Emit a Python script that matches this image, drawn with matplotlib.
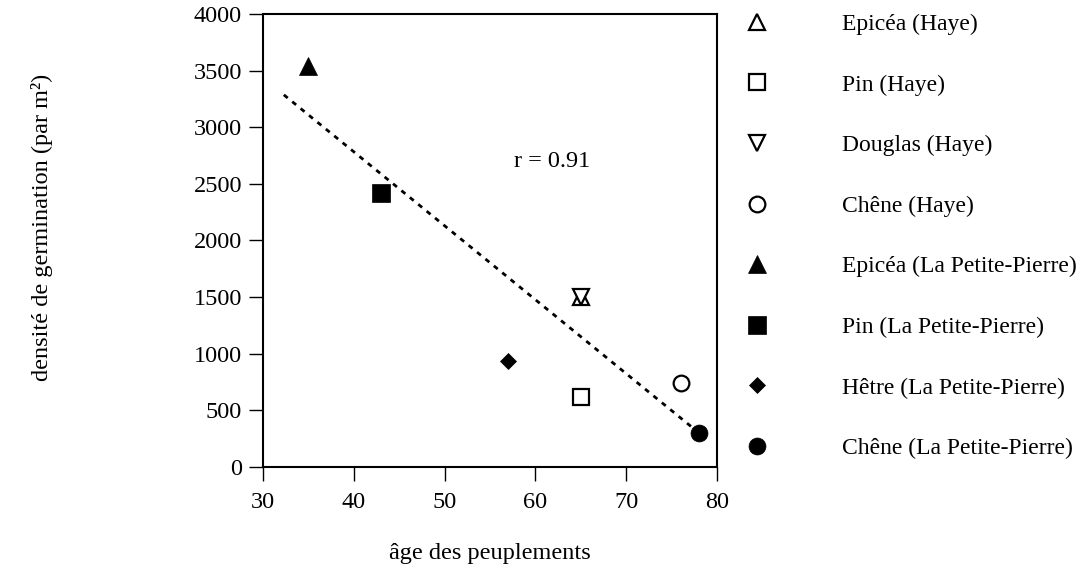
import matplotlib.pyplot as plt
import numpy as np

# --- Data ---
labels = ['Epicéa (Haye)', 'Pin (Haye)', 'Douglas (Haye)', 'Chêne (Haye)',
          'Epicéa (La Petite-Pierre)', 'Pin (La Petite-Pierre)',
          'Hêtre (La Petite-Pierre)', 'Chêne (La Petite-Pierre)']
age = [65, 65, 65, 76, 35, 43, 57, 78]
densite = [1500, 620, 1500, 740, 3540, 2420, 940, 300]

# extent of the regression line along x
fit_x = [32.3, 77.3]

x_ticks = [30, 40, 50, 60, 70, 80]
y_ticks = [0, 500, 1000, 1500, 2000, 2500, 3000, 3500, 4000]

# marker styles (marker, filled, size)
styles = [('^', False, 11.5), ('s', False, 11.5), ('v', False, 11.5), ('o', False, 11.3),
          ('^', True, 13), ('s', True, 13.3), ('D', True, 8.6), ('o', True, 12.2)]

plt.rcParams['font.family'] = ['Liberation Serif', 'DejaVu Serif']
fs = 17.5

fig = plt.figure(figsize=(10.83, 5.69), dpi=100)
ax = fig.add_axes([0.2428, 0.1793, 0.4192, 0.7961])

handles = []
for xi, yi, lab, (m, filled, ms) in zip(age, densite, labels, styles):
    h, = ax.plot([xi], [yi], linestyle='none', marker=m, markersize=ms,
                 markerfacecolor='black' if filled else 'white',
                 markeredgecolor='black', markeredgewidth=0.5 if filled else 1.6,
                 label=lab, zorder=3)
    handles.append(h)

# regression line
slope, intercept = np.polyfit(age, densite, 1)
r = np.corrcoef(age, densite)[0, 1]
fx = np.array(fit_x)
ax.plot(fx, slope * fx + intercept, color='black', linewidth=2.0,
        linestyle=(0, (1.8, 2.1)), zorder=2)
ax.text(61.8, 2700, f'r = {abs(r):.2f}', ha='center', va='center', fontsize=fs)

ax.set_xlim(30, 80)
ax.set_ylim(0, 4000)
ax.set_xticks(x_ticks)
ax.set_yticks(y_ticks)
ax.tick_params(axis='both', direction='out', length=10, width=1, labelsize=fs,
               top=False, right=False)
ax.tick_params(axis='x', pad=8)
ax.tick_params(axis='y', pad=5)
for s in ax.spines.values():
    s.set_linewidth(1.5)

ax.set_xlabel('âge des peuplements', fontsize=fs)
ax.xaxis.set_label_coords(0.5, -0.168)
ax.set_ylabel('densité de germination (par m²)', fontsize=fs)
ax.yaxis.set_label_coords(-0.462, 0.53)

ax.legend(handles=handles, loc='upper left', bbox_to_anchor=(1.042, 1.022),
          frameon=False, handlelength=1.0, handletextpad=3.09, labelspacing=1.655,
          borderaxespad=0, fontsize=17)

fig.savefig('out.png', dpi=100)
